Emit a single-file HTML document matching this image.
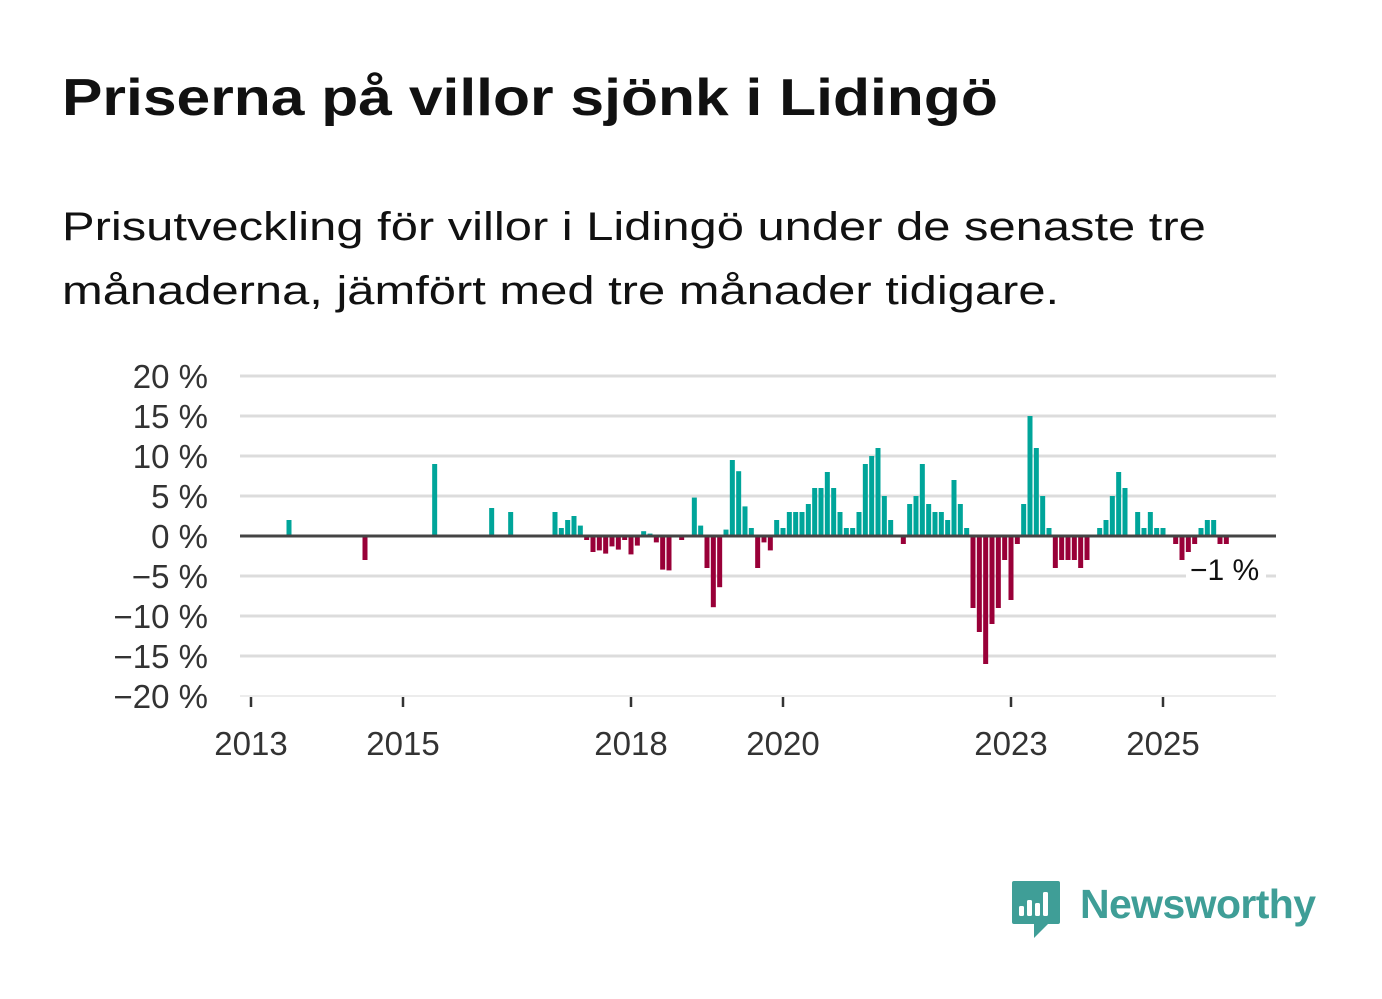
<!DOCTYPE html>
<html><head><meta charset="utf-8">
<style>
html,body{margin:0;padding:0;background:#fff;}
body{width:1382px;height:999px;position:relative;overflow:hidden;font-family:"Liberation Sans",sans-serif;color:#111;}
#title{position:absolute;left:62px;top:68px;font-size:52px;font-weight:bold;margin:0;color:#111;white-space:nowrap;transform-origin:0 0;transform:scaleX(1.165);}
#subtitle{position:absolute;left:62px;top:195px;font-size:40px;line-height:64px;color:#111;margin:0;white-space:nowrap;transform-origin:0 0;transform:scaleX(1.222);}
svg{position:absolute;left:0;top:0;}
</style></head>
<body>
<h1 id="title">Priserna på villor sjönk i Lidingö</h1>
<p id="subtitle">Prisutveckling för villor i Lidingö under de senaste tre<br>månaderna, jämfört med tre månader tidigare.</p>
<svg id="chart" width="1382" height="999"></svg>
<script>
// months since Jan 2013
const months = [6,18,29,38,41,48,49,50,51,52,53,54,55,56,57,58,59,60,61,62,63,64,65,66,68,70,71,72,73,74,75,76,77,78,79,80,81,82,83,84,85,86,87,88,89,90,91,92,93,94,95,96,97,98,99,100,101,103,104,105,106,107,108,109,110,111,112,113,114,115,116,117,118,119,120,121,122,123,124,125,126,127,128,129,130,131,132,134,135,136,137,138,140,141,142,143,144,146,147,148,149,150,151,152,153,154];
const values = [2,-3,9,3.5,3,3,1,2,2.5,1.3,-0.5,-2,-1.8,-2.2,-1.3,-1.7,-0.5,-2.3,-1.2,0.6,0.3,-0.8,-4.2,-4.3,-0.5,4.8,1.3,-4,-8.9,-6.4,0.8,9.5,8.1,3.7,1,-4,-0.8,-1.8,2,1,3,3,3,4,6,6,8,6,3,1,1,3,9,10,11,5,2,-1,4,5,9,4,3,3,2,7,4,1,-9,-12,-16,-11,-9,-3,-8,-1,4,15,11,5,1,-4,-3,-3,-3,-4,-3,1,2,5,8,6,3,1,3,1,1,-1,-3,-2,-1,1,2,2,-1,-1];
const yTicks = [20,15,10,5,0,-5,-10,-15,-20];
const yTickLabels = ["20 %","15 %","10 %","5 %","0 %","\u22125 %","\u221210 %","\u221215 %","\u221220 %"];
const xTickYears = [2013,2015,2018,2020,2023,2025];
const lastLabel = "\u22121 %";

const NS="http://www.w3.org/2000/svg";
const svg=document.getElementById('chart');
const L=240,R=1276;
function yS(v){return 536-v*8;}
function xS(m){return 251+m*76/12;}
function mk(tag,attrs){const e=document.createElementNS(NS,tag);for(const k in attrs)e.setAttribute(k,attrs[k]);svg.appendChild(e);return e;}

yTicks.forEach((t,i)=>{
  if(t!==0){
    const g=mk('line',{x1:L,x2:R,y1:yS(t),y2:yS(t),stroke:t===-20?'#e6e6e6':'#dcdcdc','stroke-width':t===-20?1.5:3});
    
    
  }
  const tx=mk('text',{x:208,y:yS(t)+12,'text-anchor':'end','font-size':33,fill:'#333','font-family':'Liberation Sans, sans-serif'});
  tx.textContent=yTickLabels[i];
  
  
});
xTickYears.forEach(y=>{
  const x=xS((y-2013)*12);
  const t=mk('line',{x1:x,x2:x,y1:697,y2:707,stroke:'#333','stroke-width':2.5});
  
  
  const tx=mk('text',{x:x,y:755,'text-anchor':'middle','font-size':33,fill:'#333','font-family':'Liberation Sans, sans-serif'});
  tx.textContent=y;
  
  
});
months.forEach((m,i)=>{
  const v=values[i];
  const x=xS(m)-2.5;
  const y=v>=0?yS(v):yS(0);
  const h=Math.abs(yS(v)-yS(0));
  const b=mk('rect',{x:x,y:y,width:5,height:h,fill:v>=0?'#00a59a':'#990038'});
  
  
});
const zl=mk('line',{x1:L,x2:R,y1:yS(0),y2:yS(0),stroke:'#444','stroke-width':3});


const lbBg=mk('rect',{x:1186,y:552,width:80,height:34,fill:'#fff'});


const lb=mk('text',{x:1190,y:580,'font-size':30,fill:'#111','font-family':'Liberation Sans, sans-serif'});
lb.textContent=lastLabel;



// logo
const lg=mk('g',{});


const ic=document.createElementNS(NS,'path');
ic.setAttribute('d','M1014 881 H1058 a2 2 0 0 1 2 2 V922 a2 2 0 0 1 -2 2 H1048 L1034 938 V924 H1014 a2 2 0 0 1 -2 -2 V883 a2 2 0 0 1 2 -2 Z');
ic.setAttribute('fill','#3f9e97');


lg.appendChild(ic);
[[1019,906,10],[1027,900,16],[1035,903,13],[1043,892,24]].forEach(r=>{
  const e=document.createElementNS(NS,'rect');
  e.setAttribute('x',r[0]);e.setAttribute('y',r[1]);e.setAttribute('width',5);e.setAttribute('height',r[2]);e.setAttribute('fill','#fff');e.setAttribute('rx',1.5);
  
  
  lg.appendChild(e);
});
const lt=document.createElementNS(NS,'text');
lt.setAttribute('x',1080);lt.setAttribute('y',918);lt.setAttribute('font-size',41);lt.setAttribute('font-weight','bold');lt.setAttribute('fill','#3f9e97');lt.setAttribute('font-family','Liberation Sans, sans-serif');
lt.setAttribute('textLength',236);
lt.textContent='Newsworthy';


lg.appendChild(lt);
</script>
</body></html>
